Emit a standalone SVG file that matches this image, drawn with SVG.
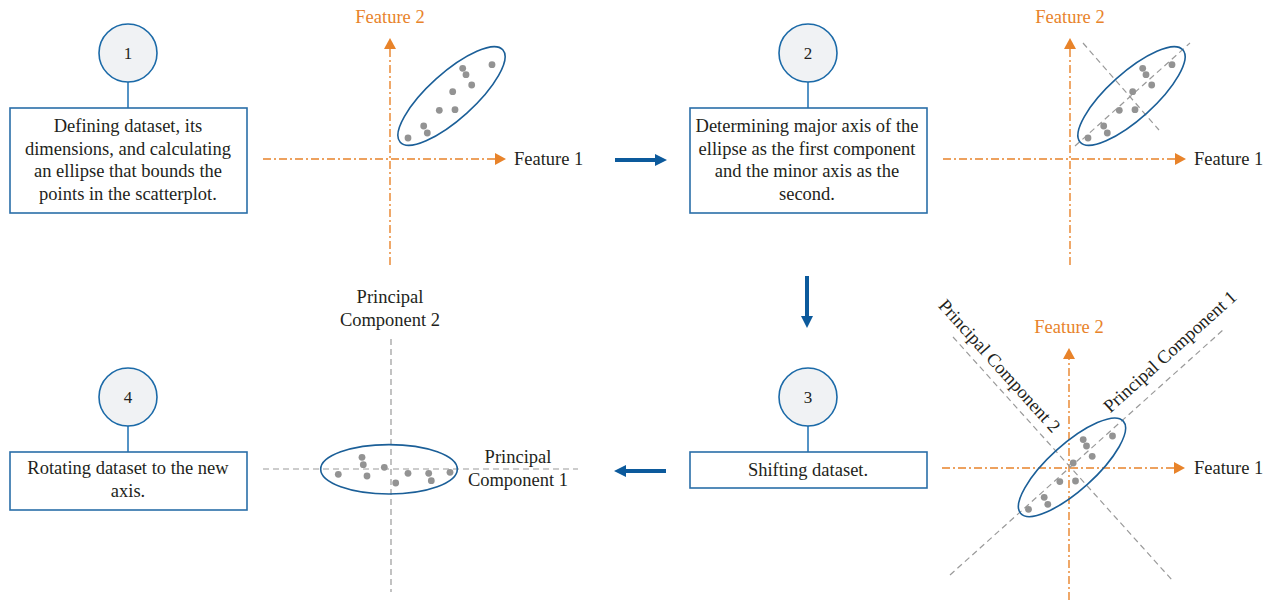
<svg xmlns="http://www.w3.org/2000/svg" width="1272" height="612" viewBox="0 0 1272 612">
  <style>
    .txt { font-family: "Liberation Serif", "Times New Roman", serif; font-size: 18.5px; fill: #231f20; }
    .num { font-family: "Liberation Serif", "Times New Roman", serif; font-size: 17px; fill: #231f20; text-anchor: middle; }
    .mid { text-anchor: middle; }
    .orange { fill: #e8832a; }
    .badge { fill: #f0f2f4; stroke: #1b6aa8; stroke-width: 1.6; }
    .stem { stroke: #2a78b8; stroke-width: 1.6; }
    .box { fill: #ffffff; stroke: #2a6ea8; stroke-width: 1.6; }
    .axis { stroke: #e8832a; stroke-width: 1.4; stroke-dasharray: 8 3 2 3; fill: none; }
    .guide { stroke: #9a9a9a; stroke-width: 1.2; stroke-dasharray: 6 4; fill: none; }
    .hull { fill: none; stroke: #1b5f98; stroke-width: 1.6; }
    .pt { fill: #939393; }
    .flow { stroke: #0c5a9c; stroke-width: 4; fill: none; }
  </style>
  <defs>
    <marker id="axisHead" markerUnits="userSpaceOnUse" markerWidth="12" markerHeight="12" refX="0" refY="6" orient="auto">
      <path d="M0,0 L11,6 L0,12 z" fill="#e8832a"/>
    </marker>
    <marker id="flowHead" markerUnits="userSpaceOnUse" markerWidth="12" markerHeight="12" refX="0" refY="6" orient="auto">
      <path d="M0,0 L12,6 L0,12 z" fill="#0c5a9c"/>
    </marker>
    <g id="cloud">
      <circle class="pt" cx="-43.5" cy="42" r="3.4"/>
      <circle class="pt" cx="-27.8" cy="30" r="3.4"/>
      <circle class="pt" cx="-24.2" cy="37" r="3.4"/>
      <circle class="pt" cx="-12.2" cy="14.3" r="3.4"/>
      <circle class="pt" cx="3.5" cy="13.7" r="3.4"/>
      <circle class="pt" cx="1.2" cy="-4.3" r="3.4"/>
      <circle class="pt" cx="20.2" cy="-11" r="3.4"/>
      <circle class="pt" cx="14.5" cy="-21.3" r="3.4"/>
      <circle class="pt" cx="11.2" cy="-27.7" r="3.4"/>
      <circle class="pt" cx="40.5" cy="-31.3" r="3.4"/>
      <ellipse class="hull" cx="0" cy="0" rx="69" ry="23" transform="rotate(-42)"/>
    </g>
  </defs>

  <!-- step 1 -->
  <g id="step1">
    <line class="stem" x1="128" y1="82" x2="128" y2="108"/>
    <circle class="badge" cx="128" cy="53" r="29"/>
    <text class="num" x="128" y="59">1</text>
    <rect class="box" x="10" y="108" width="237" height="105"/>
    <text class="txt mid" x="128" y="132">Defining dataset, its</text>
    <text class="txt mid" x="128" y="154.5">dimensions, and calculating</text>
    <text class="txt mid" x="128" y="177">an ellipse that bounds the</text>
    <text class="txt mid" x="128" y="199.5">points in the scatterplot.</text>
  </g>

  <!-- step 2 -->
  <g id="step2">
    <line class="stem" x1="808" y1="82" x2="808" y2="108"/>
    <circle class="badge" cx="808" cy="53" r="29"/>
    <text class="num" x="808" y="59">2</text>
    <rect class="box" x="690" y="108" width="237" height="105"/>
    <text class="txt mid" x="807" y="132">Determining major axis of the</text>
    <text class="txt mid" x="807" y="154.5">ellipse as the first component</text>
    <text class="txt mid" x="807" y="177">and the minor axis as the</text>
    <text class="txt mid" x="807" y="199.5">second.</text>
  </g>

  <!-- step 3 -->
  <g id="step3">
    <line class="stem" x1="808" y1="426" x2="808" y2="452"/>
    <circle class="badge" cx="808" cy="397" r="29"/>
    <text class="num" x="808" y="403">3</text>
    <rect class="box" x="690" y="452" width="237" height="36"/>
    <text class="txt mid" x="808" y="476">Shifting dataset.</text>
  </g>

  <!-- step 4 -->
  <g id="step4">
    <line class="stem" x1="128" y1="426" x2="128" y2="452"/>
    <circle class="badge" cx="128" cy="397" r="29"/>
    <text class="num" x="128" y="403">4</text>
    <rect class="box" x="10" y="452" width="237" height="58"/>
    <text class="txt mid" x="128" y="474">Rotating dataset to the new</text>
    <text class="txt mid" x="128" y="497">axis.</text>
  </g>

  <!-- plot 1: raw scatter with bounding ellipse -->
  <g id="plot1">
    <line class="axis" x1="390" y1="265" x2="390" y2="49" marker-end="url(#axisHead)"/>
    <line class="axis" x1="263" y1="159" x2="495" y2="159" marker-end="url(#axisHead)"/>
    <text class="txt mid orange" x="390" y="23">Feature 2</text>
    <text class="txt" x="514" y="165">Feature 1</text>
    <use href="#cloud" x="451.5" y="96"/>
  </g>

  <!-- plot 2: major and minor axes of the ellipse -->
  <g id="plot2">
    <line class="axis" x1="1070" y1="265" x2="1070" y2="49" marker-end="url(#axisHead)"/>
    <line class="axis" x1="943" y1="159" x2="1175" y2="159" marker-end="url(#axisHead)"/>
    <text class="txt mid orange" x="1070" y="23">Feature 2</text>
    <text class="txt" x="1194" y="165">Feature 1</text>
    <line class="guide" x1="1075" y1="146" x2="1190" y2="43"/>
    <line class="guide" x1="1083" y1="43" x2="1159" y2="130"/>
    <use href="#cloud" x="1131.5" y="96"/>
  </g>

  <!-- plot 3: data centred on the origin -->
  <g id="plot3">
    <line class="axis" x1="1069" y1="600" x2="1069" y2="359" marker-end="url(#axisHead)"/>
    <line class="axis" x1="942" y1="468" x2="1174" y2="468" marker-end="url(#axisHead)"/>
    <text class="txt mid orange" x="1069" y="333">Feature 2</text>
    <text class="txt" x="1194" y="474">Feature 1</text>
    <line class="guide" x1="950" y1="575" x2="1223" y2="330"/>
    <line class="guide" x1="953" y1="337" x2="1172" y2="580"/>
    <text class="txt mid" x="995" y="370" transform="rotate(48 995 370)">Principal Component 2</text>
    <text class="txt mid" x="1174" y="356" transform="rotate(-42 1174 356)">Principal Component 1</text>
    <use href="#cloud" x="1072" y="467.3"/>
  </g>

  <!-- plot 4: data rotated onto the principal axes -->
  <g id="plot4">
    <line class="guide" x1="391" y1="339" x2="391" y2="592"/>
    <line class="guide" x1="263" y1="469" x2="578" y2="469"/>
    <text class="txt mid" x="390" y="303">Principal</text>
    <text class="txt mid" x="390" y="326">Component 2</text>
    <text class="txt mid" x="518" y="463">Principal</text>
    <text class="txt mid" x="518" y="486">Component 1</text>
    <circle class="pt" cx="338.3" cy="474.3" r="3.4"/>
    <circle class="pt" cx="362" cy="457.3" r="3.4"/>
    <circle class="pt" cx="363.3" cy="464.7" r="3.4"/>
    <circle class="pt" cx="367" cy="476" r="3.4"/>
    <circle class="pt" cx="384.3" cy="467.3" r="3.4"/>
    <circle class="pt" cx="395.7" cy="483" r="3.4"/>
    <circle class="pt" cx="408" cy="473.3" r="3.4"/>
    <circle class="pt" cx="428.7" cy="473.3" r="3.4"/>
    <circle class="pt" cx="431.3" cy="480.7" r="3.4"/>
    <circle class="pt" cx="450" cy="472.3" r="3.4"/>
    <ellipse class="hull" cx="389" cy="469.3" rx="68.3" ry="24.7"/>
  </g>

  <!-- flow between steps -->
  <g id="connectors">
    <line class="flow" x1="615" y1="160" x2="655" y2="160" marker-end="url(#flowHead)"/>
    <line class="flow" x1="807" y1="276" x2="807" y2="316" marker-end="url(#flowHead)"/>
    <line class="flow" x1="666" y1="471" x2="626" y2="471" marker-end="url(#flowHead)"/>
  </g>
</svg>
